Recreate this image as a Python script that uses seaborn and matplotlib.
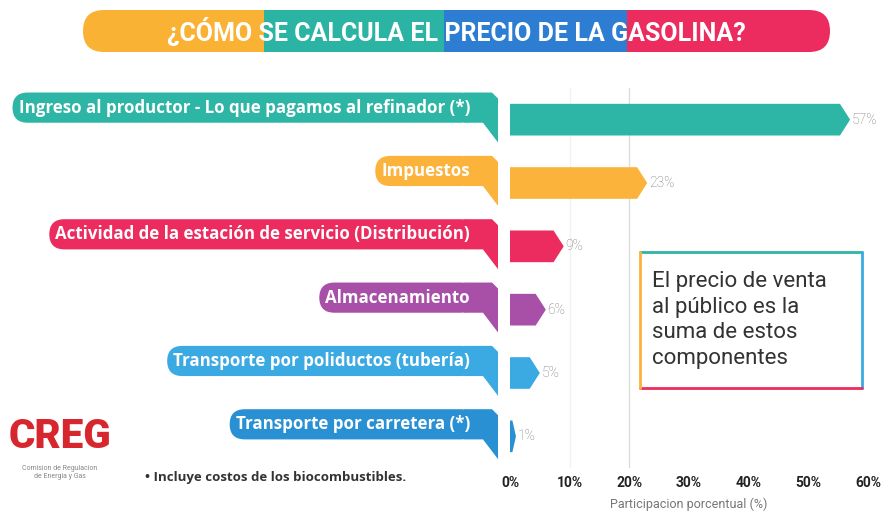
import numpy as np
import pandas as pd
import matplotlib
matplotlib.use("Agg")
import matplotlib.pyplot as plt
import matplotlib.transforms as mtransforms
from matplotlib.patches import FancyBboxPatch, Rectangle, Polygon
import seaborn as sns

# data
componentes = ["Ingreso al productor - Lo que pagamos al refinador (*)",
               "Impuestos",
               "Actividad de la estación de servicio (Distribución)",
               "Almacenamiento",
               "Transporte por poliductos (tubería)",
               "Transporte por carretera (*)"]
participacion = [57, 23, 9, 6, 5, 1]
colores = ["#2DB5A6", "#FBB33B", "#EC2B5E", "#A84FA8", "#3BAAE3", "#2990D3"]
ticks = [0, 10, 20, 30, 40, 50, 60]
tick_labels = ["0%", "10%", "20%", "30%", "40%", "50%", "60%"]
titulo = "¿CÓMO SE CALCULA EL PRECIO DE LA GASOLINA?"
titulo_colores = ["#F9B233", "#2BB3A3", "#2D7DD2", "#EC2B5E"]
nota_caja = "El precio de venta\nal público es la\nsuma de estos\ncomponentes"

df = pd.DataFrame({"componente": componentes, "pct": participacion})

sns.set_theme(style="white")
plt.rcParams["font.family"] = ["Roboto", "DejaVu Sans"]

fig = plt.figure(figsize=(8.89, 5.12), dpi=100)
W, H = 889, 512

# background axes in pixel coords for the decorations
bg = fig.add_axes([0, 0, 1, 1], zorder=0)
bg.set_xlim(0, W)
bg.set_ylim(H, 0)
bg.axis("off")

# title banner
banner = FancyBboxPatch((83, 10), 747, 42, boxstyle="round,pad=0,rounding_size=21",
                        facecolor="none", edgecolor="none")
bg.add_patch(banner)
seg_x = [83, 264, 444, 627]
seg_w = [181, 180, 183, 203]
for x0, w, c in zip(seg_x, seg_w, titulo_colores):
    r = Rectangle((x0, 10), w, 42, facecolor=c, edgecolor="none")
    bg.add_patch(r)
    r.set_clip_path(banner)
bg.text(456, 32, titulo, color="white", fontsize=18, fontweight="bold",
        ha="center", va="center")

# box with the note
bg.plot([640, 862], [252, 252], color="#2DB5A6", lw=2)
bg.plot([862, 862], [252, 388], color="#3BAAE3", lw=2)
bg.plot([640, 862], [388, 388], color="#EC2B5E", lw=2)
bg.plot([640, 640], [252, 388], color="#FBB33B", lw=2)
bg.text(652, 320, nota_caja, fontsize=16, color="#333333", ha="left",
        va="center", linespacing=1.3)

# logo and footnote
bg.text(60, 436, "CREG", fontsize=29, fontweight="heavy", color="#D7262E",
        ha="center", va="center")
bg.text(60, 472, "Comision de Regulacion\nde Energia y Gas", fontsize=5,
        color="#888888", ha="center", va="center")
bg.text(145, 478, "• Incluye costos de los biocombustibles.", fontsize=9.5,
        fontweight="bold", family=["Open Sans", "DejaVu Sans"], color="#333333",
        va="center")

# main chart
ax = fig.add_axes([510 / W, 1 - 468 / H, 358 / W, 380 / H], zorder=1)
ax.patch.set_alpha(0)
sns.barplot(data=df, x="pct", y="componente", hue="componente",
            palette=colores, saturation=1, orient="h", width=0.5,
            legend=False, ax=ax)
ax.set_xlim(0, 60)
ax.set_ylim(5.5, -0.5)

# turn the bars into arrows
for p in ax.patches:
    x0, y0 = p.get_x(), p.get_y()
    w, h = p.get_width(), p.get_height()
    tip = min(1.7, w * 0.6)
    pts = [(x0, y0), (x0 + w - tip, y0), (x0 + w, y0 + h / 2),
           (x0 + w - tip, y0 + h), (x0, y0 + h)]
    ax.add_patch(Polygon(pts, closed=True, facecolor=p.get_facecolor(),
                         edgecolor="none", zorder=3))
    p.set_visible(False)

ax.axvline(10, color="#f2f2f2", lw=1, zorder=1)
ax.axvline(20, color="#dcdcdc", lw=1, zorder=1)

for i, v in enumerate(participacion):
    ax.text(v + 0.3, i, f"{v}%", va="center", ha="left", fontsize=10,
            color="#7a7a7a", fontweight="light")

ax.set_xticks(ticks)
ax.set_xticklabels(tick_labels, fontweight="bold", fontsize=10, color="#222222")
ax.tick_params(axis="x", length=0, pad=6)
ax.set_yticks([])
ax.set_ylabel("")
ax.set_xlabel("Participacion porcentual (%)", fontsize=9, color="#777777",
              labelpad=5)
sns.despine(ax=ax, left=True, bottom=True)

# callout labels
trans = mtransforms.blended_transform_factory(ax.transAxes, ax.transData)
px = 1 / 358          # one pixel in axes fraction
xr = -12 * px         # right edge of callouts
labels = []
for i, (name, c) in enumerate(zip(componentes, colores)):
    t = ax.text(xr - 28 * px, i - 0.19, name, transform=trans, ha="right",
                va="center", fontsize=12.2, fontweight="bold", color="white",
                family=["Open Sans", "DejaVu Sans"], clip_on=False,
                bbox=dict(boxstyle="round,pad=0.36,rounding_size=0.9",
                          facecolor=c, edgecolor="none"))
    labels.append(t)

# tails, sized from the drawn boxes
fig.canvas.draw()
disp_xr = trans.transform((xr, 0))[0]
for i, (t, c) in enumerate(zip(labels, colores)):
    bb = t.get_bbox_patch().get_window_extent()
    tip_y = trans.transform((0, i + 0.36))[1]
    pts = [(bb.x1 - 12, bb.y1), (disp_xr - 6, bb.y1), (disp_xr, bb.y1 - 6),
           (disp_xr, tip_y), (disp_xr - 15, bb.y0), (bb.x1 - 12, bb.y0)]
    pts = trans.inverted().transform(pts)
    ax.add_patch(Polygon(pts, closed=True, transform=trans, facecolor=c,
                         edgecolor="none", clip_on=False))

fig.savefig("out.png", dpi=100)
